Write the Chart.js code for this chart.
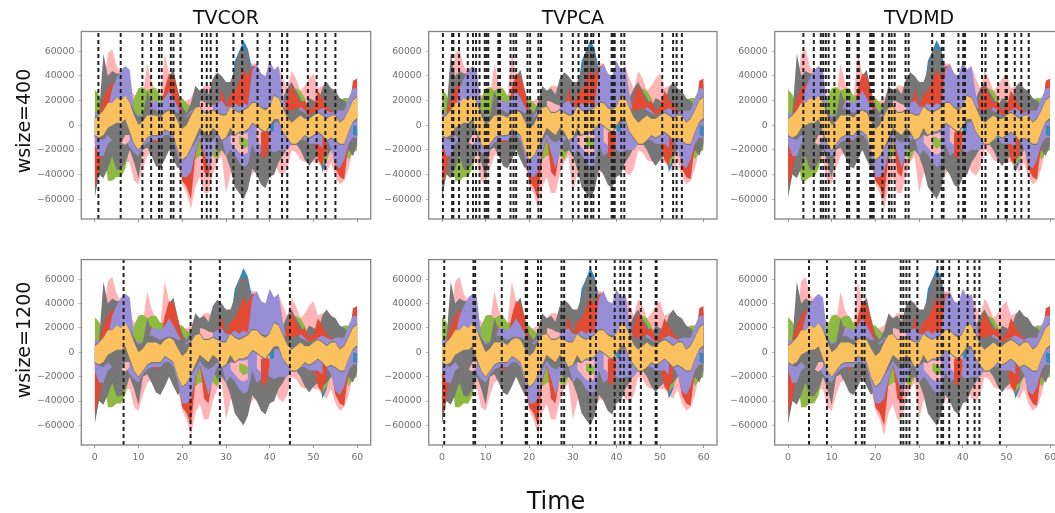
<!DOCTYPE html>
<html><head><meta charset="utf-8">
<script src="https://cdn.jsdelivr.net/npm/chart.js@4"></script>
<style>
html,body{margin:0;padding:0;background:#fff;width:1055px;height:513px;overflow:hidden}
#fig{position:absolute;left:0;top:0;width:1055px;height:513px;overflow:hidden;filter:blur(0.55px)}
canvas{position:absolute}
.lab{position:absolute;font-family:"DejaVu Sans";color:#111;white-space:nowrap;transform:translate(-50%,-50%)}
</style></head><body><div id="fig"></div>
<script>
const _=null;
const timeAxis=[0,1,2,3,4,5,6,7,8,9,10,11,12,13,14,15,16,17,18,19,20,21,22,23,24,25,26,27,28,29,30,31,32,33,34,35,36,37,38,39,40,41,42,43,44,45,46,47,48,49,50,51,52,53,54,55,56,57,58,59,60];
const xTickValues=[0,10,20,30,40,50,60];
const yTickValues=[-60000,-40000,-20000,0,20000,40000,60000];
const rowLabels=["wsize=400","wsize=1200"];
const columnTitles=["TVCOR","TVPCA","TVDMD"];
const xLabel="Time";

const pinkHi=[10000,15000,30000,58000,62000,48000,42000,38000,30000,25000,22000,24000,50000,35000,28000,24000,58000,42000,30000,22000,18000,20000,22000,30000,28000,32000,32000,30000,28000,32000,30000,30000,35000,40000,50000,52000,50000,50000,42000,30000,35000,40000,48000,38000,30000,44000,38000,28000,32000,38000,42000,30000,32000,34000,30000,24000,20000,18000,20000,30000,35000];
const pinkLo=[-15000,-30000,-35000,-38000,-40000,-42000,-35000,-30000,-30000,-45000,-48000,-35000,-25000,-22000,-22000,-25000,-20000,-15000,-25000,-30000,-48000,-55000,-68000,-50000,-42000,-55000,-55000,-40000,-30000,-25000,-55000,-40000,-30000,-42000,-45000,-45000,-40000,-35000,-30000,-20000,-25000,-30000,-38000,-41000,-35000,-20000,-22000,-28000,-30000,-25000,-30000,-30000,-35000,-38000,-30000,-42000,-48000,-45000,-35000,-20000,-15000];
const blueHi=[5000,5000,5000,5000,5000,5000,5000,5000,5000,5000,5000,5000,5000,5000,5000,5000,5000,5000,5000,5000,5000,5000,5000,5000,5000,5000,5000,5000,5000,5000,5000,25000,52000,60000,69000,62000,45000,20000,5000,5000,5000,5000,5000,5000,5000,5000,5000,5000,5000,5000,5000,5000,5000,5000,5000,5000,5000,5000,5000,5000,5000];
const blueLo=[-10000,-10000,-10000,-10000,-10000,-41000,-41000,-30000,-10000,-10000,-10000,-10000,-10000,-10000,-10000,-10000,-10000,-10000,-10000,-10000,-38000,-40000,-38000,-10000,-10000,-10000,-10000,-10000,-10000,-10000,-10000,-10000,-10000,-10000,-10000,-10000,-10000,-10000,-10000,-10000,-10000,-10000,-10000,-10000,-10000,-10000,-10000,-10000,-10000,-10000,-10000,-10000,-38000,-30000,-10000,-10000,-10000,-10000,-10000,-10000,-10000];
const greenHi=[29000,25000,15000,10000,12000,10000,10000,15000,15000,22000,30000,31000,28000,30000,30000,24000,25000,22000,25000,22000,22000,18000,15000,10000,10000,10000,10000,10000,10000,10000,10000,10000,10000,10000,10000,10000,10000,10000,10000,10000,10000,10000,10000,10000,25000,28000,30000,28000,22000,10000,10000,10000,10000,10000,10000,18000,20000,22000,22000,18000,10000];
const greenLo=[-8000,-10000,-15000,-45000,-45000,-42000,-42000,-35000,-18000,-15000,-15000,-15000,-15000,-15000,-15000,-15000,-15000,-10000,-10000,-10000,-10000,-10000,-20000,-28000,-25000,-25000,-15000,-25000,-28000,-20000,-15000,-15000,-15000,-15000,-15000,-15000,-15000,-15000,-22000,-22000,-22000,-15000,-15000,-15000,-15000,-15000,-15000,-15000,-25000,-25000,-25000,-25000,-33000,-28000,-20000,-20000,-20000,-20000,-28000,-22000,-20000];
const greyHi=[5000,10000,58000,40000,44000,42000,42000,38000,12000,8000,8000,8000,28000,18000,12000,15000,25000,40000,45000,28000,15000,10000,18000,32000,28000,30000,25000,38000,43000,40000,35000,35000,45000,60000,62000,60000,35000,35000,25000,25000,28000,25000,20000,22000,30000,35000,28000,22000,15000,22000,20000,18000,30000,35000,30000,28000,22000,20000,16000,30000,33000];
const greyLo=[-59000,-40000,-43000,-35000,-25000,-36000,-36000,-30000,-20000,-30000,-43000,-20000,-18000,-25000,-33000,-35000,-28000,-20000,-28000,-35000,-30000,-25000,-35000,-22000,-12000,-25000,-22000,-15000,-22000,-20000,-25000,-35000,-50000,-55000,-60000,-52000,-35000,-40000,-48000,-51000,-42000,-40000,-30000,-25000,-18000,-15000,-15000,-20000,-28000,-33000,-28000,-25000,-28000,-25000,-20000,-20000,-25000,-30000,-20000,-25000,-15000];
const redHi=[0,10000,22000,30000,35000,30000,20000,15000,10000,8000,5000,5000,8000,22000,10000,10000,30000,42000,40000,28000,10000,5000,8000,8000,8000,8000,8000,10000,12000,30000,15000,25000,28000,36000,45000,40000,48000,48000,15000,10000,10000,10000,10000,12000,22000,33000,25000,18000,20000,12000,15000,28000,22000,15000,12000,10000,8000,8000,8000,36000,38000];
const redLo=[-50000,-38000,-15000,-10000,-10000,-10000,-10000,-10000,-18000,-20000,-20000,-15000,-12000,-10000,-15000,-10000,-5000,-5000,-10000,-25000,-45000,-50000,-60000,-25000,-8000,-38000,-42000,-20000,-10000,-8000,-20000,-15000,-15000,-15000,-15000,-15000,-12000,-12000,-22000,-27000,-15000,-15000,-15000,-15000,-15000,-12000,-10000,-10000,-10000,-12000,-12000,-28000,-33000,-12000,-15000,-35000,-42000,-44000,-15000,-10000,-10000];
const purpleHi=[10000,10000,8000,12000,30000,38000,45000,48000,45000,12000,8000,8000,8000,20000,20000,18000,22000,28000,22000,15000,8000,8000,12000,14000,15000,14000,14000,16000,18000,20000,15000,15000,18000,15000,18000,16000,45000,50000,42000,40000,52000,45000,48000,25000,8000,10000,10000,15000,12000,8000,10000,12000,14000,12000,10000,12000,12000,12000,22000,30000,30000];
const purpleLo=[-15000,-25000,-25000,-15000,-12000,-12000,-12000,-12000,-18000,-22000,-25000,-18000,-14000,-12000,-12000,-12000,-8000,-8000,-12000,-25000,-42000,-42000,-38000,-22000,-10000,-22000,-35000,-22000,-12000,-10000,-25000,-20000,-24000,-30000,-34000,-32000,-15000,-25000,-22000,-15000,-20000,-22000,-20000,-20000,-20000,-15000,-10000,-12000,-12000,-15000,-15000,-15000,-18000,-12000,-18000,-32000,-35000,-28000,-15000,-10000,-10000];
const innerPinkHi=[_,_,_,_,_,_,1000,0,-2000,_,_,_,_,_,_,_,_,_,_,_,_,_,_,_,20000,19000,17000,16000,_,_,_,-6000,-7000,-7000,-7000,-6000,_,0,1000,0,-1000,_,_,_,_,_,_,_,_,_,_,_,_,_,_,_,_,_,_,_,_];
const innerPinkLo=[_,_,_,_,_,_,-14000,-16000,-12000,_,_,_,_,_,_,_,_,_,_,_,_,_,_,_,5000,5000,5000,5000,_,_,_,-14000,-18000,-22000,-24000,-22000,_,-13000,-16000,-17000,-15000,_,_,_,_,_,_,_,_,_,_,_,_,_,_,_,_,_,_,_,_];
const innerGreenHi=[_,_,_,_,_,_,_,_,_,_,_,_,_,_,_,_,_,_,_,_,_,_,_,_,_,_,_,_,_,_,_,_,_,-9000,-10000,-12000,_,_,_,_,_,_,_,_,_,_,_,_,_,_,_,_,_,_,_,_,_,_,_,_,_];
const innerGreenLo=[_,_,_,_,_,_,_,_,_,_,_,_,_,_,_,_,_,_,_,_,_,_,_,_,_,_,_,_,_,_,_,_,_,-15000,-19000,-17000,_,_,_,_,_,_,_,_,_,_,_,_,_,_,_,_,_,_,_,_,_,_,_,_,_];
const innerRedHi=[_,_,_,_,_,_,_,_,_,_,_,_,_,_,_,_,_,_,_,_,_,_,_,_,_,_,_,_,_,_,_,_,_,_,_,_,_,_,-6000,-3000,-6000,_,_,_,_,_,_,_,_,_,_,_,-8000,-8000,_,_,_,_,_,_,_];
const innerRedLo=[_,_,_,_,_,_,_,_,_,_,_,_,_,_,_,_,_,_,_,_,_,_,_,_,_,_,_,_,_,_,_,_,_,_,_,_,_,_,-25000,-27000,-12000,_,_,_,_,_,_,_,_,_,_,_,-25000,-25000,_,_,_,_,_,_,_];
const innerBlueHi=[_,_,_,_,_,_,_,3000,_,_,7000,7000,_,_,_,_,_,_,_,_,7000,7000,_,_,_,_,_,_,_,_,4000,5000,_,_,_,_,_,_,_,_,2000,2000,_,_,_,_,_,_,_,_,_,_,_,_,_,4000,3000,_,_,0,-1000];
const innerBlueLo=[_,_,_,_,_,_,_,-5000,_,_,0,0,_,_,_,_,_,_,_,_,0,1000,_,_,_,_,_,_,_,_,-3000,-3000,_,_,_,_,_,_,_,_,-5000,-5000,_,_,_,_,_,_,_,_,_,_,_,_,_,-3000,-3000,_,_,-8000,-9000];
const midGreyHi=[6000,9000,13000,18000,18000,22000,20000,24000,19000,12000,6000,8000,12000,14000,12000,10000,12000,13000,12000,10000,10000,6000,10000,15000,16000,11000,11000,13000,11000,9000,9000,16000,13000,11000,13000,15000,19000,19000,15000,14000,15000,25000,23000,15000,12000,12000,14000,12000,10000,8000,10000,11000,9000,6000,9000,9000,3000,6000,13000,21000,24000];
const midGreyLo=[-9000,-11000,-12000,-8000,-12000,-15000,-15000,-8000,-8000,-16000,-21000,-16000,-11000,-9000,-9000,-9000,-4000,-6000,-9000,-21000,-29000,-26000,-19000,-14000,-7000,-12000,-14000,-12000,-8000,-13000,-11000,-8000,-9000,-6000,-6000,-4000,1000,-1000,-4000,-6000,-2000,2000,3000,-6000,-11000,-16000,-16000,-13000,-9000,-11000,-9000,-6000,-9000,-13000,-11000,-13000,-16000,-16000,-6000,2000,4000];
const orangeHi=[5000,8000,12000,18000,18000,22000,20000,24000,18000,8000,0,3000,8000,8000,8000,6000,10000,12000,10000,3000,-3000,0,8000,14000,15000,10000,10000,12000,10000,8000,8000,15000,12000,10000,12000,14000,18000,18000,14000,12000,15000,24000,22000,14000,6000,2000,5000,8000,5000,5000,8000,10000,8000,5000,8000,8000,2000,5000,12000,20000,23000];
const orangeLo=[-8000,-10000,-8000,-2000,0,2000,2000,5000,-5000,-15000,-20000,-15000,-10000,-8000,-8000,-8000,-3000,-5000,-8000,-20000,-28000,-25000,-18000,-10000,-2000,-5000,-8000,-2000,-5000,-12000,-10000,-2000,-8000,-5000,-5000,-3000,2000,0,-3000,-5000,0,5000,5000,-5000,-10000,-15000,-15000,-12000,-8000,-10000,-8000,-5000,-8000,-12000,-10000,-12000,-15000,-15000,-5000,3000,6000];

const cpTvcor400=[0.84,5.94,10.9,12.9,14.7,15.3,17.4,18.0,19.6,24.5,25.6,26.5,27.9,31.7,33.7,37.2,40.0,42.8,44.0,48.7,50.7,52.7,55.0];
const cpTvpca400=[0.2,2.3,2.6,3.9,5.9,7.1,7.8,8.6,9.8,10.2,10.6,12.9,13.3,15.7,16.4,17.0,19.6,20.2,22.1,22.7,27.4,30.0,31.3,32.8,33.3,34.2,34.7,36.0,38.9,39.2,39.6,41.1,41.8,50.5,53.0,53.8,55.0];
const cpTvdmd400=[3.5,5.9,7.5,8.05,8.65,9.3,10.6,13.5,14.0,15.9,16.2,18.8,19.2,19.6,21.6,23.1,23.7,24.4,26.9,27.6,33.0,35.2,35.6,39.0,40.1,40.5,44.4,45.2,48.1,49.8,50.1,51.9,53.4,55.1];
const cpTvcor1200=[6.6,21.9,28.6,44.6];
const cpTvpca1200=[0.5,7.2,7.6,13.7,19.2,19.5,22.0,22.7,27.4,28.0,34.0,35.3,39.6,40.9,41.7,43.0,43.2,45.6,49.0,49.2];
const cpTvdmd1200=[4.8,8.9,15.5,16.9,17.5,25.8,26.4,27.1,27.8,29.6,34.2,35.1,35.5,36.9,39.1,41.1,42.7,43.8,48.5];

// painter's order, bottom layer first
const layers=[
 [pinkHi,pinkLo,"#FFB5B8"],[blueHi,blueLo,"#348ABD"],[greenHi,greenLo,"#8EBA42"],
 [greyHi,greyLo,"#777777"],[redHi,redLo,"#E24A33"],[purpleHi,purpleLo,"#988ED5"],
 [innerPinkHi,innerPinkLo,"#FFB5B8"],[innerGreenHi,innerGreenLo,"#8EBA42"],[innerRedHi,innerRedLo,"#E24A33"],[innerBlueHi,innerBlueLo,"#348ABD"],
 [midGreyHi,midGreyLo,"#777777"],[orangeHi,orangeLo,"#FBC15E"]
];
const Y_MIN=-76000,Y_MAX=76000,X_MIN=-3.06,X_MAX=63.06;
const frame={id:"frame",afterDraw(c){const a=c.chartArea,g=c.ctx;g.save();g.strokeStyle="#858585";g.lineWidth=1.3;g.strokeRect(a.left,a.top,a.right-a.left,a.bottom-a.top);g.restore();}};
const pts=v=>timeAxis.map((t,i)=>({x:t,y:v[i]}));

function panel(title,cps,L,R,T,B,showX){
  const cv=document.createElement("canvas");
  const left=Math.max(0,Math.floor(L)-81), top=title?0:Math.floor(T)-6;
  const w=Math.ceil(R)+3-left, bottom=Math.ceil(B)+24, h=bottom-top;
  cv.width=w;cv.height=h;cv.style.left=left+"px";cv.style.top=top+"px";
  document.getElementById("fig").appendChild(cv);
  const ds=[];
  cps.forEach(x=>ds.push({data:[{x,y:Y_MIN},{x,y:Y_MAX}],borderColor:"#222",borderWidth:2,borderDash:[4,3],pointRadius:0,fill:false,tension:0}));
  [...layers].reverse().forEach(([hi,lo,col])=>{
    ds.push({data:pts(hi),borderWidth:0,borderColor:col,backgroundColor:col,pointRadius:0,fill:"+1"});
    ds.push({data:pts(lo),borderWidth:0,borderColor:col,backgroundColor:col,pointRadius:0,fill:false});
  });
  new Chart(cv,{type:"line",data:{datasets:ds},plugins:[frame],options:{
    responsive:false,animation:false,events:[],
    layout:{padding:{top:title?0:T-top,right:w-(R-left),bottom:0,left:0}},
    plugins:{legend:{display:false},tooltip:{enabled:false},
      title:{display:!!title,text:title||"",fullSize:false,color:"#111",font:{family:"DejaVu Sans",size:19,weight:"normal",lineHeight:1},padding:{top:10,bottom:2.5}}},
    scales:{
      x:{type:"linear",min:X_MIN,max:X_MAX,
        afterBuildTicks:s=>{s.ticks=xTickValues.map(value=>({value}));},
        afterFit:s=>{s.height=bottom-B;},
        grid:{drawOnChartArea:false,drawTicks:true,tickLength:3,tickColor:"#999"},border:{display:false},
        ticks:{autoSkip:false,maxRotation:0,padding:4,color:"#707070",font:{family:"DejaVu Sans",size:9.3},callback:v=>showX?String(v):""}},
      y:{type:"linear",min:Y_MIN,max:Y_MAX,
        afterBuildTicks:s=>{s.ticks=yTickValues.map(value=>({value}));},
        afterFit:s=>{s.width=L-left;},
        grid:{drawOnChartArea:false,drawTicks:true,tickLength:3,tickColor:"#bbb"},border:{display:false},
        ticks:{autoSkip:false,padding:4,color:"#707070",font:{family:"DejaVu Sans",size:9.3},callback:v=>String(v).replace("-","\u2212")}}
    }}});
}
const cols=[[81.3,370.7],[428.7,717],[774.7,1063.5]];
const cps=[[cpTvcor400,cpTvpca400,cpTvdmd400],[cpTvcor1200,cpTvpca1200,cpTvdmd1200]];
const rows=[[31.5,219],[256.7,445]];
rows.forEach((r,i)=>cols.forEach((c,j)=>panel(i==0?columnTitles[j]:null,cps[i][j],c[0],c[1],r[0],r[1],i==1)));

function label(text,x,y,size,rot){const d=document.createElement("div");d.className="lab";d.textContent=text;d.style.left=x+"px";d.style.top=y+"px";d.style.fontSize=size+"px";if(rot)d.style.transform="translate(-50%,-50%) rotate(-90deg)";document.getElementById("fig").appendChild(d);}
label(rowLabels[0],23,121,19,true);
label(rowLabels[1],23,340,19,true);
label(xLabel,556,501,24,false);
</script></body></html>
